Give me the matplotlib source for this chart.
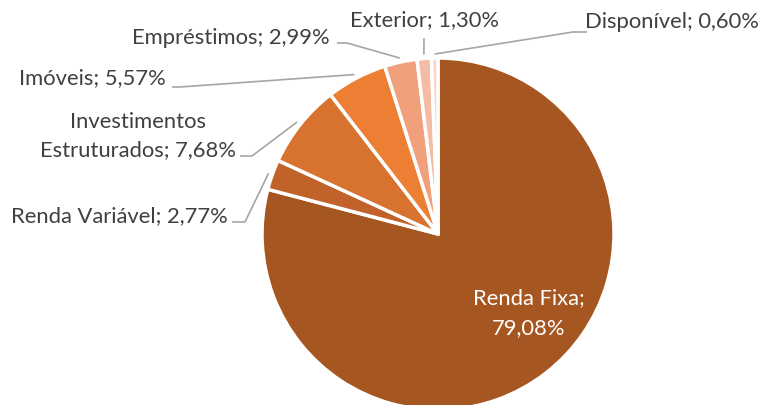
import numpy as np
import matplotlib
matplotlib.use("Agg")
import matplotlib.pyplot as plt

categories = ["Renda Fixa", "Renda Variável", "Investimentos\nEstruturados", "Imóveis",
              "Empréstimos", "Exterior", "Disponível"]
values = [79.08, 2.77, 7.68, 5.57, 2.99, 1.30, 0.60]
colors = ["#A65620", "#C0622A", "#D8722F", "#EC7F34", "#F0A07A", "#F4BBA5", "#F8D5C8"]

W, H = 762, 405
fig = plt.figure(figsize=(W / 100, H / 100), dpi=100)
ax = fig.add_axes([0, 0, 1, 1])

cx, cy, R = 438, H - 234, 176
wedges, _ = ax.pie(values, colors=colors, startangle=90, counterclock=False,
                   center=(cx, cy), radius=R,
                   wedgeprops=dict(edgecolor="white", linewidth=2.5))
ax.set_xlim(0, W)
ax.set_ylim(0, H)
ax.set_aspect("equal")
ax.axis("off")

font = dict(family=["Lato", "DejaVu Sans"], size=15.8, color="#404040")
line_kw = dict(color="#A6A6A6", lw=1.2, solid_capstyle="butt")

def lbl(i):
    name = categories[i]
    return f"{name}; {values[i]:.2f}%".replace(".", ",")

def anchor(i, r_off=4):
    w = wedges[i]
    a = np.deg2rad((w.theta1 + w.theta2) / 2)
    return cx + (R + r_off) * np.cos(a), cy + (R + r_off) * np.sin(a)

# Renda Fixa inside
ax.text(529, H - 313, "Renda Fixa;\n" + f"{values[0]:.2f}%".replace(".", ","),
        ha="center", va="center", linespacing=1.6, **{**font, "color": "white"})

# outside labels: (text x, text y, ha, line start, elbow)
layout = {
    1: ((228, 216), "right", (232, 222), (245, 222)),
    2: ((138, 136), "center", (240, 156), (252, 156)),
    3: ((166, 78), "right", (172, 87), (180, 87)),
    4: ((330, 38), "right", (337, 43), (347, 43)),
    5: ((424, 20), "center", None, (424, 38)),
    6: ((759, 22), "right", (587, 32), (573, 32)),
}
for i, ((tx, ty), ha, p0, p1) in layout.items():
    ax.text(tx, H - ty, lbl(i), ha=ha, va="center", linespacing=1.45, **font)
    ax_, ay_ = anchor(i)
    pts = [p for p in (p0, p1) if p is not None]
    xs = [p[0] for p in pts] + [ax_]
    ys = [H - p[1] for p in pts] + [ay_]
    ax.plot(xs, ys, **line_kw)

fig.savefig("out.png", dpi=100, facecolor="white")
